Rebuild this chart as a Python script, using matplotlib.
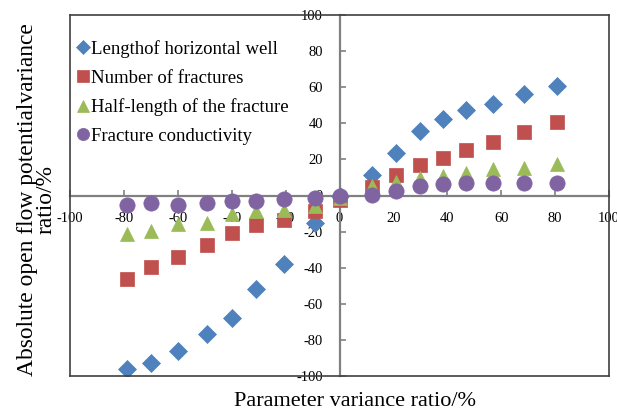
import matplotlib
matplotlib.use("Agg")
import matplotlib.pyplot as plt

# Data
x_vals = [-79, -70, -60, -49, -40, -31, -20.5, -9, 0, 12, 21, 30, 38.5, 47, 57, 68.5, 80.6]
length_well = [-96, -92.7, -86.4, -76.8, -68, -52, -37.7, -15.5, 0, 11.3, 23.6, 36, 42.5, 47.1, 50.8, 56.1, 60.6]
num_fractures = [-46.2, -39.5, -33.8, -27.3, -20.5, -16.6, -13.7, -8.7, -2.6, 4.6, 11.3, 17, 20.5, 25.1, 29.7, 35.3, 40.8]
half_length = [-21.6, -19.8, -16, -15.1, -10.5, -8.7, -7.8, -5.9, -1.3, 5.5, 7.6, 9.8, 11, 12.6, 14.8, 15.3, 17.5]
conductivity = [-5, -4, -5, -4, -3.1, -3.1, -2.2, -1.3, 0, 0.5, 2.4, 5.2, 6.5, 7, 7, 7, 7]

labels = ["Lengthof horizontal well", "Number of fractures",
          "Half-length of the fracture", "Fracture conductivity"]
ticks = [-100, -80, -60, -40, -20, 0, 20, 40, 60, 80, 100]

plt.rcParams['font.family'] = ['Liberation Serif', 'DejaVu Serif']

W, H = 617, 412
fig = plt.figure(figsize=(W / 100, H / 100), dpi=100)
ax = fig.add_axes([70 / W, 1 - 376 / H, (609 - 70) / W, (376 - 15) / H])

ax.set_xlim(-100, 100)
ax.set_ylim(-100, 100)

series = [
    (length_well, 'D', '#4F81BD', 9.5),
    (num_fractures, 's', '#C0504D', 10),
    (half_length, '^', '#9BBB59', 10.5),
    (conductivity, 'o', '#8064A2', 11),
]
handles = []
for (vals, mk, col, ms), lab in zip(series, labels):
    h, = ax.plot(x_vals, vals, linestyle='none', marker=mk, color=col,
                 markersize=ms, markeredgecolor=col, markeredgewidth=0.5,
                 label=lab, zorder=3)
    handles.append(h)

# Center spines
for s in ['left', 'bottom']:
    ax.spines[s].set_position(('data', 0))
    ax.spines[s].set_color('#808080')
    ax.spines[s].set_linewidth(1.6)
    ax.spines[s].set_zorder(2)
for s in ['right', 'top']:
    ax.spines[s].set_visible(False)

# Outer box
for xs, ys in [([-100, 100], [100, 100]), ([-100, 100], [-100, -100]),
               ([-100, -100], [-100, 100]), ([100, 100], [-100, 100])]:
    ax.plot(xs, ys, color='#404040', linewidth=1.2, clip_on=False, zorder=4)

ax.set_xticks(ticks)
ax.set_yticks(ticks)
ax.set_xticklabels([str(t) for t in ticks])
ax.set_yticklabels([str(t) for t in ticks])
ax.tick_params(axis='both', direction='in', length=4, width=1.2, color='#808080',
               labelsize=10.5, pad=12)
for lab in ax.get_xticklabels() + ax.get_yticklabels():
    lab.set_zorder(1)

leg = ax.legend(handles=handles, loc='upper left', bbox_to_anchor=(-0.012, 0.967),
                frameon=False, fontsize=13.5, handlelength=0.7, handletextpad=0.05,
                labelspacing=0.62, borderaxespad=0.3, markerscale=0.8)

fig.text(355 / W, 1 - 401 / H, "Parameter variance ratio/%", ha='center', va='center',
         fontsize=16)
fig.text(37 / W, 1 - 200 / H, "Absolute open flow potentialvariance\nratio/%",
         rotation=90, ha='center', va='center', multialignment='center',
         fontsize=16.9, linespacing=0.85)

fig.savefig("out.png", dpi=100)
